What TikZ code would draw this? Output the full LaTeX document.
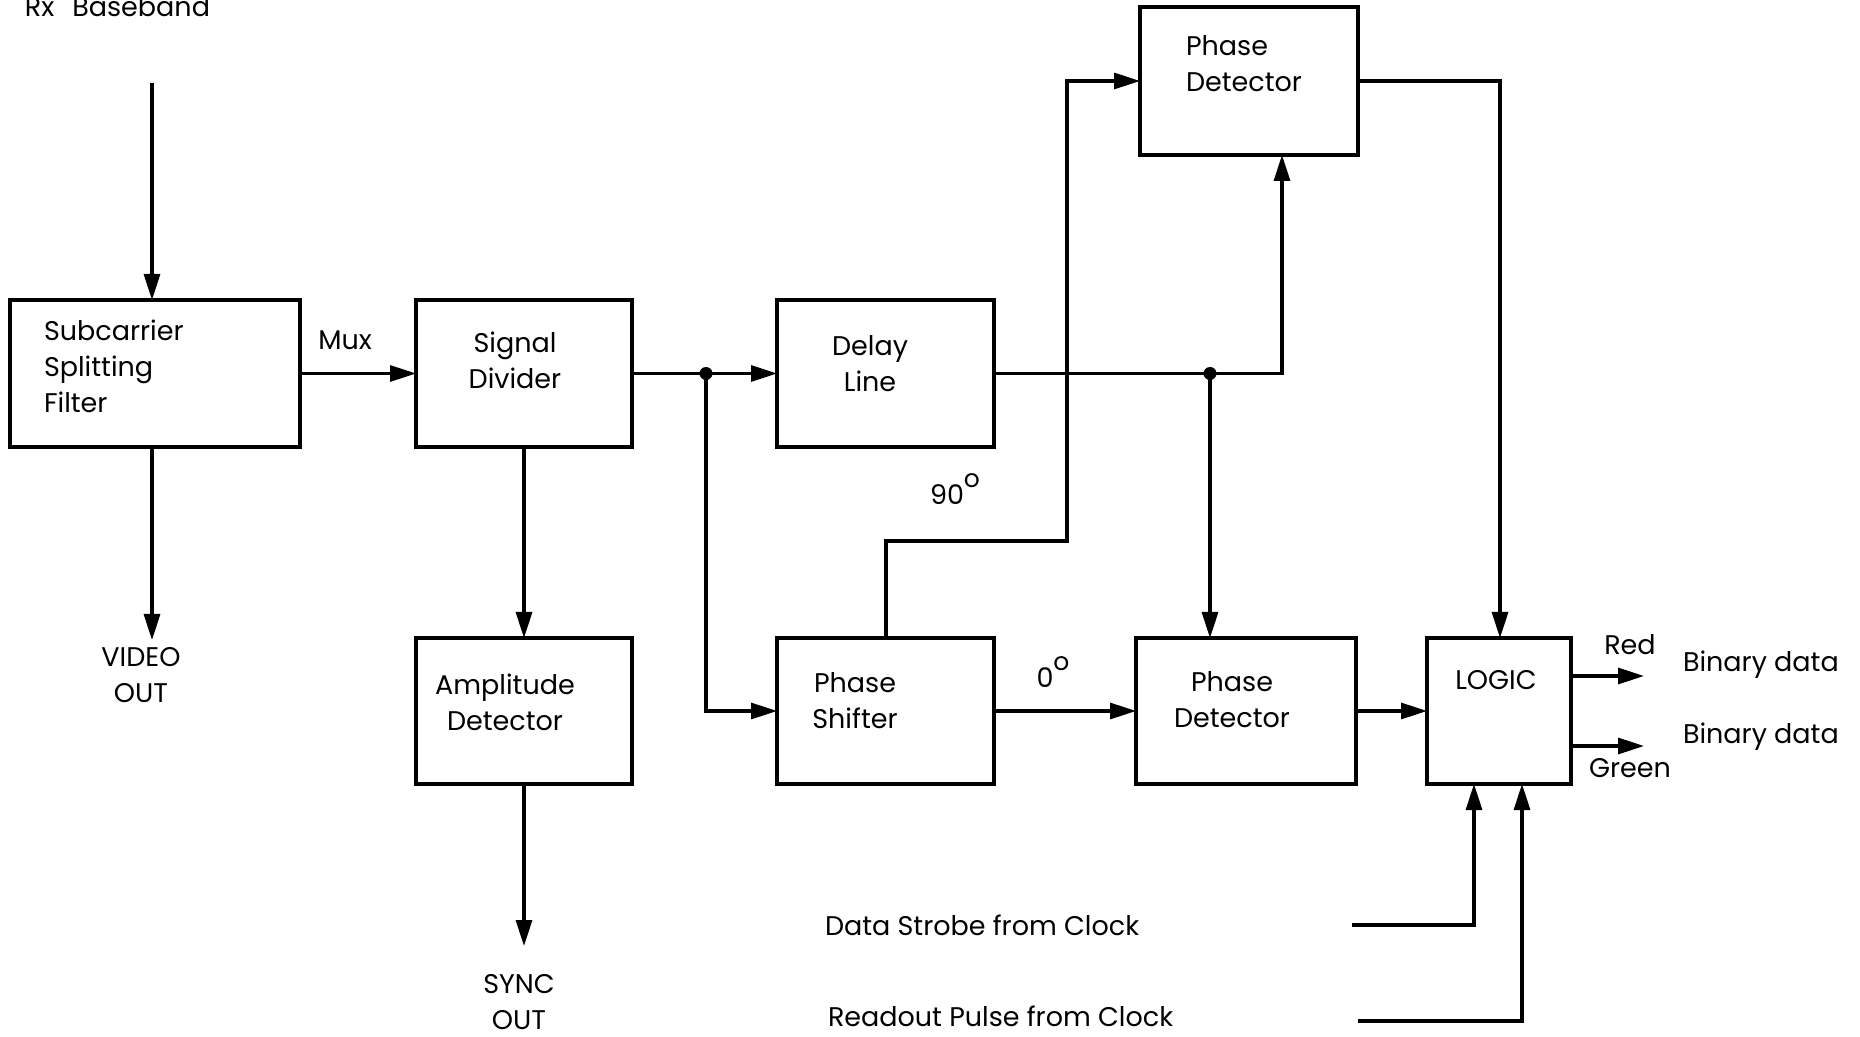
\documentclass[tikz,border=0pt]{standalone}
\usepackage{fontspec}
\setmainfont{Poppins}
\usetikzlibrary{arrows.meta}
\tikzset{
  box/.style={draw, line width=1.6pt, inner sep=0pt, outer sep=0pt},
  txt/.style={font=\fontsize{13.5}{18}\selectfont, inner sep=0pt, outer sep=0pt},
  wire/.style={line width=1.6pt, line join=miter},
  arr/.style={wire, -{Triangle[length=13pt,width=8pt]}},
  jdot/.style={circle, fill, inner sep=0pt, minimum size=6.5pt},
}
\begin{document}
\begin{tikzpicture}[x=0.5pt,y=-0.5pt]
\useasboundingbox (0,0) rectangle (1860,1037);
% boxes
\node[box, minimum width=145pt, minimum height=73.5pt] (ssf) at (155,373.5) {};
\node[box, minimum width=108pt, minimum height=73.5pt] (sd) at (524,373.5) {};
\node[box, minimum width=108.5pt, minimum height=73.5pt] (dl) at (885.5,373.5) {};
\node[box, minimum width=109pt, minimum height=74pt] (pdt) at (1249,81) {};
\node[box, minimum width=108pt, minimum height=73pt] (ad) at (524,711) {};
\node[box, minimum width=108.5pt, minimum height=73pt] (ps) at (885.5,711) {};
\node[box, minimum width=110pt, minimum height=73pt] (pdb) at (1246,711) {};
\node[box, minimum width=72pt, minimum height=73pt] (logic) at (1499,711) {};
% box texts
\node[txt, align=left, anchor=west] (tssf) at (44,366) {Subcarrier\\Splitting\\Filter};
\node[txt, align=center] (tsd) at (515,360) {Signal\\Divider};
\node[txt, align=center] (tdl) at (870,364) {Delay\\Line};
\node[txt, align=left, anchor=west] (tpdt) at (1186,64) {Phase\\Detector};
\node[txt, align=center] (tad) at (505,702) {Amplitude\\Detector};
\node[txt, align=center] (tps) at (855,701) {Phase\\Shifter};
\node[txt, align=center] (tpdb) at (1232,700) {Phase\\Detector};
\node[txt] (tlogic) at (1496,680) {LOGIC};
% free texts
\node[txt, anchor=base west] (rx) at (25,17) {Rx\hspace{9pt}Baseband};
\node[txt, align=center] (video) at (141,675) {VIDEO\\OUT};
\node[txt, align=center] (sync) at (519,1002) {SYNC\\OUT};
\node[txt] (mux) at (345,340) {Mux};
\node[txt] (d90) at (955,489) {90\raisebox{1.1ex}{\fontsize{12.5}{12.5}\selectfont o}};
\node[txt] (d0) at (1053,672) {0\raisebox{1.1ex}{\fontsize{12.5}{12.5}\selectfont o}};
\node[txt] (red) at (1630,645) {Red};
\node[txt] (green) at (1630,768) {Green};
\node[txt, anchor=west] (bd1) at (1683,665) {Binary data};
\node[txt, anchor=west] (bd2) at (1683,737) {Binary data};
\node[txt, anchor=west] (strobe) at (825,925) {Data Strobe from Clock};
\node[txt, anchor=west] (readout) at (828,1016) {Readout Pulse from Clock};
% coordinates
\coordinate (rxs) at (152,83);
\coordinate (vout) at (152,640);
\coordinate (sout) at (524,946);
\coordinate (j1) at (706,373.5);
\coordinate (j2) at (1210,373.5);
\coordinate (c1) at (1282,155);
\coordinate (p1) at (886,638);
\coordinate (p2) at (886,541);
\coordinate (p3) at (1067,541);
\coordinate (lt) at (1500,638);
\coordinate (r0) at (1571,676);
\coordinate (r1) at (1644,676);
\coordinate (g0) at (1571,746);
\coordinate (g1) at (1644,746);
\coordinate (s0) at (1352,925);
\coordinate (s1) at (1474,784);
\coordinate (q0) at (1358,1021);
\coordinate (q1) at (1522,784);
% connectors
\draw[arr] (rxs) -- (rxs |- ssf.north);
\draw[arr] (ssf.south -| vout) -- (vout);
\draw[arr] (ssf.east) -- (sd.west);
\draw[arr] (sd.south) -- (ad.north);
\draw[arr] (ad.south) -- (sout);
\draw[arr] (sd.east) -- (dl.west);
\draw[arr] (j1) |- (ps.west);
\draw[arr] (dl.east) -| (c1);
\draw[arr] (j2) -- (j2 |- pdb.north);
\draw[arr] (p1) -- (p2) -- (p3) |- (pdt.west);
\draw[arr] (ps.east) -- (pdb.west);
\draw[arr] (pdb.east) -- (logic.west);
\draw[arr] (pdt.east) -| (lt);
\draw[arr] (r0) -- (r1);
\draw[arr] (g0) -- (g1);
\draw[arr] (s0) -| (s1);
\draw[arr] (q0) -| (q1);
\node[jdot] (dot1) at (j1) {};
\node[jdot] (dot2) at (j2) {};
\end{tikzpicture}
\end{document}
